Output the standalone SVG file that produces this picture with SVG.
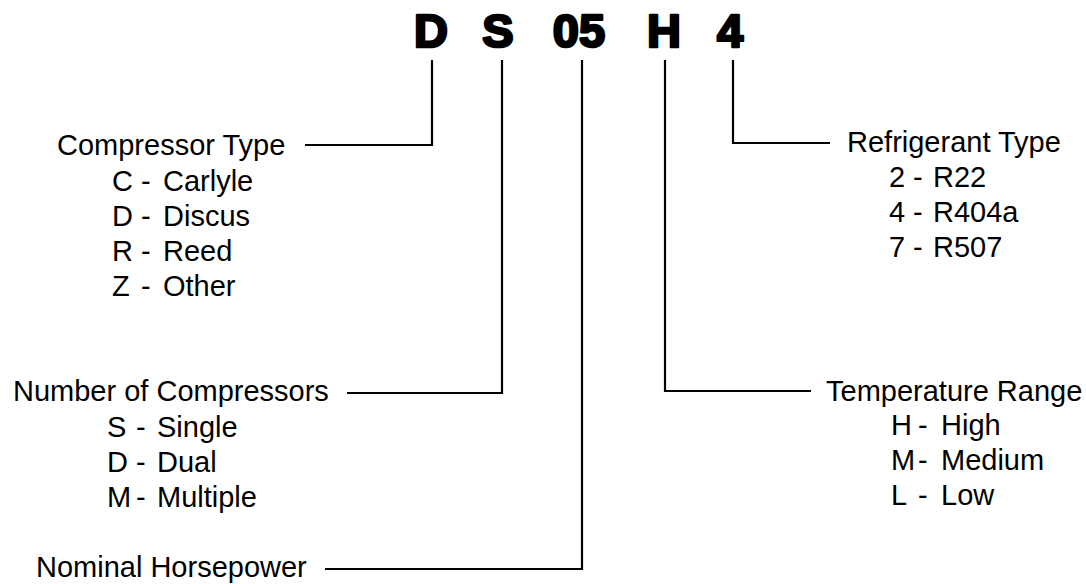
<svg xmlns="http://www.w3.org/2000/svg" width="1086" height="584" viewBox="0 0 1086 584">
<style>
.t{font-family:"Liberation Sans",Arial,sans-serif;font-size:29px;fill:#000}
.code{font-family:"Liberation Sans",Arial,sans-serif;font-size:47px;font-weight:bold;fill:#000;stroke:#000;stroke-width:2.6;stroke-linejoin:round;text-anchor:middle}
.ln{fill:none;stroke:#000;stroke-width:2.2}
</style>
<rect width="1086" height="584" fill="#fff"/>
<g id="model-code">
<text class="code" x="431" y="47">D</text>
<text class="code" x="498" y="47">S</text>
<text class="code" x="579" y="47">05</text>
<text class="code" x="664" y="47">H</text>
<text class="code" x="730" y="47">4</text>
</g>
<g id="connectors">
<polyline class="ln" points="432,60 432,145 305,145"/>
<polyline class="ln" points="502,60 502,393 347,393"/>
<polyline class="ln" points="582,60 582,569 325,569"/>
<polyline class="ln" points="665,60 665,391 811,391"/>
<polyline class="ln" points="733,60 733,143 830,143"/>
</g>
<g id="compressor-type">
<text class="t" x="57" y="155">Compressor Type</text>
<text class="t" y="191"><tspan x="112">C</tspan><tspan x="141">-</tspan><tspan x="163">Carlyle</tspan></text>
<text class="t" y="226"><tspan x="112">D</tspan><tspan x="141">-</tspan><tspan x="163">Discus</tspan></text>
<text class="t" y="261"><tspan x="112">R</tspan><tspan x="141">-</tspan><tspan x="163">Reed</tspan></text>
<text class="t" y="296"><tspan x="112">Z</tspan><tspan x="141">-</tspan><tspan x="163">Other</tspan></text>
</g>
<g id="number-of-compressors">
<text class="t" x="13" y="401">Number of Compressors</text>
<text class="t" y="437"><tspan x="107">S</tspan><tspan x="136">-</tspan><tspan x="157">Single</tspan></text>
<text class="t" y="472"><tspan x="107">D</tspan><tspan x="136">-</tspan><tspan x="157">Dual</tspan></text>
<text class="t" y="507"><tspan x="107">M</tspan><tspan x="136">-</tspan><tspan x="157">Multiple</tspan></text>
</g>
<g id="nominal-horsepower">
<text class="t" x="36" y="577">Nominal Horsepower</text>
</g>
<g id="refrigerant-type">
<text class="t" x="847" y="152">Refrigerant Type</text>
<text class="t" y="187"><tspan x="889">2</tspan><tspan x="913">-</tspan><tspan x="933">R22</tspan></text>
<text class="t" y="222"><tspan x="889">4</tspan><tspan x="913">-</tspan><tspan x="933">R404a</tspan></text>
<text class="t" y="257"><tspan x="889">7</tspan><tspan x="913">-</tspan><tspan x="933">R507</tspan></text>
</g>
<g id="temperature-range">
<text class="t" x="826" y="401">Temperature Range</text>
<text class="t" y="435"><tspan x="891">H</tspan><tspan x="918">-</tspan><tspan x="941">High</tspan></text>
<text class="t" y="470"><tspan x="891">M</tspan><tspan x="918">-</tspan><tspan x="941">Medium</tspan></text>
<text class="t" y="505"><tspan x="891">L</tspan><tspan x="918">-</tspan><tspan x="941">Low</tspan></text>
</g>
</svg>
